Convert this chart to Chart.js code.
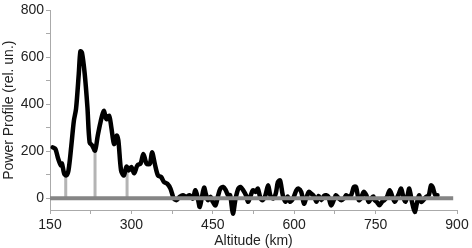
<!DOCTYPE html>
<html>
<head>
<meta charset="utf-8">
<script src="https://cdn.jsdelivr.net/npm/chart.js@4"></script>
<style>
  html, body { margin: 0; padding: 0; background: #fff; }
  #wrap { width: 472px; height: 248px; }
</style>
</head>
<body>
<div id="wrap"><canvas id="profileChart" width="472" height="248"></canvas></div>
<script>
// altitude (km) and power profile values
const altitude = [
  155, 160, 165, 170, 172, 176, 180, 184, 189, 194, 198, 203, 206, 209, 214, 219,
  223, 228, 233, 238, 243, 249, 254, 259, 263, 268, 273, 276, 281, 286, 291, 295,
  300, 305, 311, 317, 322, 328, 334, 338, 343, 349, 355, 360, 366, 372, 378, 383,
  389, 395, 401, 407, 413, 418, 423, 426, 430, 434, 437, 441, 446, 450, 455, 460,
  464, 469, 474, 478, 482, 487, 492, 497, 501, 506, 511, 515, 519, 524, 529, 533,
  538, 542, 547, 552, 556, 561, 566, 570, 574, 579, 584, 588, 592, 598, 604, 608,
  613, 618, 622, 627, 631, 636, 641, 645, 650, 655, 659, 663, 668, 673, 677, 682,
  687, 692, 696, 700, 705, 710, 714, 719, 723, 728, 733, 737, 742, 746, 748, 752,
  757, 762, 766, 771, 776, 781, 785, 789, 793, 797, 801, 805, 809, 812, 817, 822,
  826, 830, 834, 838, 843, 848, 852, 855, 860, 864
];
const power = [
  217, 210, 169, 140, 148, 106, 97, 118, 217, 330, 381, 529, 626, 619, 529, 386,
  238, 224, 203, 267, 323, 372, 337, 351, 302, 231, 267, 246, 118, 97, 135, 118,
  133, 106, 140, 148, 189, 147, 147, 196, 148, 97, 90, 69, 62, 41, -1, -8,
  6, 13, 6, 13, -1, 34, -8, -37, 6, 45, 20, -8, 6, -15, -30, 13,
  41, 48, 34, 13, 13, -65, -1, 41, 48, 34, 13, -15, 6, 34, 27, 41,
  -1, -8, 13, 55, 13, -1, 20, 69, 76, 13, -15, 8, -15, -1, 34, 41,
  27, -23, 0, 27, 20, 10, -15, 10, -8, 10, 13, 6, -30, -8, 13, 0,
  -8, 0, 13, 6, 13, 48, 48, -8, 0, 27, 13, -15, 0, 8, -8, -15,
  -30, -15, -8, 6, 34, 6, -15, 0, 20, 41, 6, -15, 13, 41, -15, -58,
  -23, 13, -15, -8, 6, 13, 55, 48, 13, 13
];

// gray marker stems and the zero baseline
const stemAltitude = [179, 233, 292];
const stemTop = [95, 200, 120];
const baseline = [150, 893];

// axis ticks
const xTicks = [150, 225, 300, 375, 450, 525, 600, 675, 750, 825, 900];
const xLabels = [150, 300, 450, 600, 750, 900];
const yTicks = [0, 100, 200, 300, 400, 500, 600, 700, 800];
const yLabels = [0, 200, 400, 600, 800];

const curve = altitude.map((a, i) => ({ x: a, y: power[i] }));

const stemSets = stemAltitude.map((a, i) => ({
  data: [{ x: a, y: 0 }, { x: a, y: stemTop[i] }],
  borderColor: '#b4b4b4',
  borderWidth: 3,
  pointRadius: 0,
  showLine: true,
  order: 3
}));

const font = { family: 'Liberation Sans, Arial, sans-serif', size: 14 };

new Chart(document.getElementById('profileChart'), {
  type: 'scatter',
  data: {
    datasets: [
      ...stemSets,
      {
        data: curve,
        borderColor: '#000',
        borderWidth: 4.5,
        tension: 0.3,
        borderJoinStyle: 'round',
        borderCapStyle: 'round',
        pointRadius: 0,
        showLine: true,
        clip: false,
        order: 2
      },
      {
        data: baseline.map(a => ({ x: a, y: 0 })),
        borderColor: '#858585',
        borderWidth: 4,
        pointRadius: 0,
        showLine: true,
        order: 1
      }
    ]
  },
  options: {
    responsive: false,
    animation: false,
    layout: { padding: { top: 9, right: 15, left: 0, bottom: 0 } },
    plugins: { legend: { display: false }, tooltip: { enabled: false } },
    scales: {
      x: {
        type: 'linear',
        min: 150, max: 900,
        afterFit: s => { s.height = 38; },
        afterBuildTicks: s => { s.ticks = xTicks.map(v => ({ value: v })); },
        grid: { drawOnChartArea: false, color: '#aaa', tickLength: 4 },
        border: { color: '#aaa', width: 1 },
        ticks: {
          color: '#222', font: font, padding: 3, maxRotation: 0, autoSkip: false,
          callback: v => xLabels.includes(v) ? v : ''
        },
        title: {
          display: true, text: 'Altitude (km)', color: '#222',
          font: { family: font.family, size: 14, lineHeight: 1 }, padding: { top: 0, bottom: 0 }
        }
      },
      y: {
        min: -50, max: 800,
        afterFit: s => { s.width = 50; },
        afterBuildTicks: s => { s.ticks = yTicks.map(v => ({ value: v })); },
        grid: { drawOnChartArea: false, color: '#aaa', tickLength: 4 },
        border: { color: '#aaa', width: 1 },
        ticks: {
          color: '#222', font: font, padding: 2, autoSkip: false,
          callback: v => yLabels.includes(v) ? v : ''
        },
        title: {
          display: true, text: 'Power Profile (rel. un.)', color: '#222',
          font: { family: font.family, size: 14, lineHeight: 1 }, padding: { top: 2, bottom: 0 }
        }
      }
    }
  }
});
</script>
</body>
</html>
